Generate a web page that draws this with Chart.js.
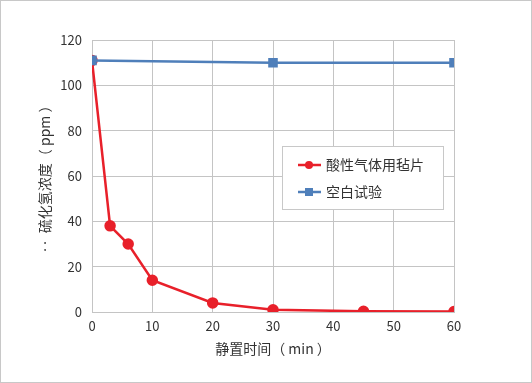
<!DOCTYPE html>
<html>
<head>
<meta charset="utf-8">
<script src="https://cdn.jsdelivr.net/npm/chart.js@4/dist/chart.umd.min.js"></script>
<style>
html,body{margin:0;padding:0;background:#fff;}
#wrap{width:532px;height:383px;position:relative;}
</style>
</head>
<body>
<div id="wrap"><canvas id="c" width="532" height="383"></canvas></div>
<script>
const seriesNames = ['酸性气体用毡片', '空白试验'];
const timeFelt = [0, 3, 6, 10, 20, 30, 45, 60];
const valuesFelt = [111, 38, 30, 14, 4, 1, 0.3, 0.2];
const timeBlank = [0, 30, 60];
const valuesBlank = [111, 110, 110];
const xTitle = '静置时间（ min ）';
const yTitle = '‥  硫化氢浓度（ ppm ）';

const RED = '#e8202a';
const BLUE = '#4f7fba';
const GRID = '#c4c4c4';
const TXT = '#333333';
const FONT = '"Noto Sans CJK SC", "Noto Sans", sans-serif';

const frameAndLegend = {
  id: 'frameAndLegend',
  beforeDraw(chart) {
    const ctx = chart.ctx;
    ctx.save();
    ctx.fillStyle = '#fff';
    ctx.fillRect(0, 0, chart.width, chart.height);
    ctx.restore();
  },
  afterDraw(chart) {
    const ctx = chart.ctx;
    ctx.save();
    ctx.strokeStyle = '#c8c8c8';
    ctx.lineWidth = 1;
    ctx.strokeRect(0.5, 0.5, chart.width - 1, chart.height - 1);
    // legend box
    const bx = 282.5, by = 146.5, bw = 161, bh = 63;
    ctx.fillStyle = '#fff';
    ctx.fillRect(bx, by, bw, bh);
    ctx.strokeStyle = '#c8c8c8';
    ctx.strokeRect(bx, by, bw, bh);
    const items = chart.data.datasets;
    const rows = [165, 192];
    items.forEach((ds, i) => {
      const y = rows[i];
      ctx.strokeStyle = ds.borderColor;
      ctx.lineWidth = 2.5;
      ctx.beginPath();
      ctx.moveTo(298, y);
      ctx.lineTo(321, y);
      ctx.stroke();
      ctx.fillStyle = ds.backgroundColor;
      if (ds.pointStyle === 'rect') {
        ctx.fillRect(305, y - 4, 8, 8);
      } else {
        ctx.beginPath();
        ctx.arc(309, y, 4, 0, Math.PI * 2);
        ctx.fill();
      }
      ctx.fillStyle = TXT;
      ctx.font = '14px ' + FONT;
      ctx.textBaseline = 'middle';
      ctx.textAlign = 'left';
      ctx.fillText(ds.label, 326, y);
    });
    ctx.restore();
  }
};

new Chart(document.getElementById('c'), {
  type: 'line',
  data: {
    datasets: [
      {
        label: seriesNames[0],
        data: timeFelt.map((t, i) => ({x: t, y: valuesFelt[i]})),
        borderColor: RED,
        backgroundColor: RED,
        borderWidth: 2.5,
        pointStyle: 'circle',
        pointRadius: 4.5,
        pointHoverRadius: 4.5,
        tension: 0,
        order: 1
      },
      {
        label: seriesNames[1],
        data: timeBlank.map((t, i) => ({x: t, y: valuesBlank[i]})),
        borderColor: BLUE,
        backgroundColor: BLUE,
        borderWidth: 2.5,
        pointStyle: 'rect',
        pointRadius: 5,
        pointHoverRadius: 5,
        tension: 0,
        order: 0
      }
    ]
  },
  options: {
    responsive: false,
    animation: false,
    devicePixelRatio: 1,
    layout: { padding: { left: 36, top: 40, right: 78, bottom: 26 } },
    plugins: { legend: { display: false }, tooltip: { enabled: false } },
    scales: {
      x: {
        type: 'linear',
        min: 0, max: 60,
        ticks: { stepSize: 10, color: TXT, font: { family: FONT, size: 13 }, padding: 6 },
        grid: { color: GRID, drawTicks: false },
        border: { color: GRID },
        title: { display: true, text: xTitle, color: TXT, font: { family: FONT, size: 14 }, padding: 0 },
        afterFit(s) { s.height = 45; }
      },
      y: {
        min: 0, max: 120,
        ticks: { stepSize: 20, color: TXT, font: { family: FONT, size: 13 }, padding: 10 },
        grid: { color: GRID, drawTicks: false },
        border: { color: GRID },
        title: { display: true, text: yTitle, color: TXT, font: { family: FONT, size: 14 }, padding: 0 },
        afterFit(s) { s.width = 56; }
      }
    }
  },
  plugins: [frameAndLegend]
});
</script>
</body>
</html>
